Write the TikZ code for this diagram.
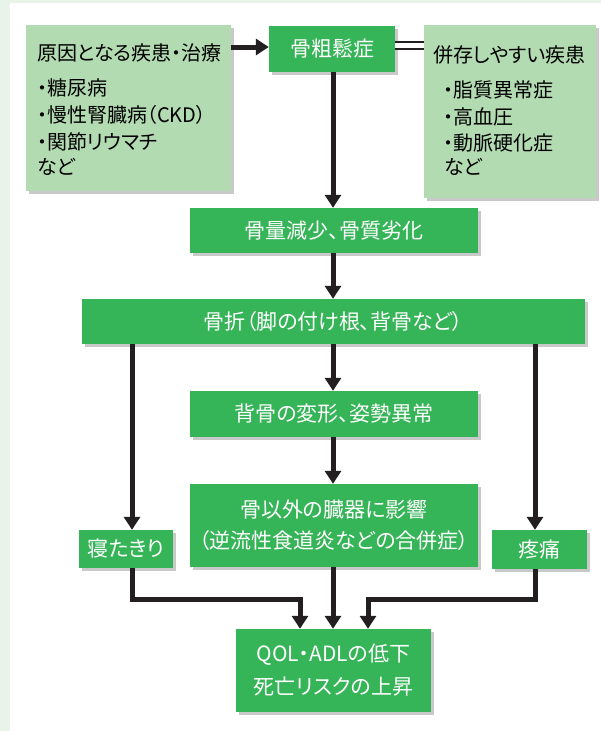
\documentclass[tikz,border=0pt]{standalone}
\usepackage{fontspec}
\setmainfont{Noto Sans CJK JP}[RawFeature={+palt}]
\usetikzlibrary{arrows.meta,shadows}
\definecolor{gfill}{RGB}{54,180,88}
\definecolor{lfill}{RGB}{179,219,178}
\definecolor{pagebg}{RGB}{233,244,233}
\definecolor{ink}{RGB}{35,31,32}
\begin{document}
\begin{tikzpicture}[x=1pt,y=-1pt,
  shad/.style={drop shadow={shadow xshift=2.5pt,shadow yshift=-2.5pt,opacity=0.35,fill=black!60}},
  gbox/.style={shad, fill=gfill, text=white, inner sep=0pt, font=\fontsize{21}{31}\selectfont, align=center},
  lbox/.style={shad, fill=lfill, inner sep=0pt},
  ltext/.style={anchor=base west, inner sep=0pt, font=\fontsize{20}{27}\selectfont, text=black},
  arr/.style={draw=ink, line width=5pt, -{Triangle[width=16pt,length=13pt]}, line join=miter},
  dline/.style={draw=ink, line width=2pt, double=white, double distance=5pt},
]
\useasboundingbox (0,0) rectangle (601,731);
\fill[pagebg] (0,0) rectangle (601,731);
\fill[white] (10,3) rectangle (601,731);

% light boxes
\node[lbox, minimum width=205pt, minimum height=166pt] (cause) at (128.5,108) {};
\node[lbox, minimum width=172pt, minimum height=173pt] (comorb) at (510,111.5) {};

\node[ltext] (c1) at (37,60) {原因となる疾患・治療};
\node[ltext] (c2) at (37,95) {・糖尿病};
\node[ltext] (c3) at (37,122) {・慢性腎臓病（CKD）};
\node[ltext] (c4) at (37,149) {・関節リウマチ};
\node[ltext] (c5) at (37,174) {など};

\node[ltext] (m1) at (433,62) {併存しやすい疾患};
\node[ltext] (m2) at (443,97) {・脂質異常症};
\node[ltext] (m3) at (443,124) {・高血圧};
\node[ltext] (m4) at (443,150) {・動脈硬化症};
\node[ltext] (m5) at (444,174) {など};

% green boxes
\node[gbox, minimum width=126pt, minimum height=46pt] (osteo) at (332,49) {骨粗鬆症};
\node[gbox, minimum width=288pt, minimum height=45pt] (loss) at (334,230.5) {骨量減少、骨質劣化};
\node[gbox, minimum width=503pt, minimum height=45pt] (frac) at (333.5,321.5) {骨折（脚の付け根、背骨など）};
\node[gbox, minimum width=288pt, minimum height=46pt] (deform) at (334,414) {背骨の変形、姿勢異常};
\node[gbox, minimum width=288pt, minimum height=83pt] (organ) at (334,525.5) {骨以外の臓器に影響\\（逆流性食道炎などの合併症）};
\node[gbox, minimum width=94pt, minimum height=38pt] (bed) at (126,549) {寝たきり};
\node[gbox, minimum width=95pt, minimum height=39pt] (pain) at (539.5,549.5) {疼痛};
\node[gbox, minimum width=195pt, minimum height=83pt, font=\fontsize{21}{33}\selectfont] (qol) at (333.5,670.5) {QOL・ADLの低下\\死亡リスクの上昇};

% helper coordinates
\coordinate (ca) at (0,47);
\coordinate (dl) at (0,45.5);
\coordinate (mid) at (333,0);
\coordinate (bx) at (132,0);
\coordinate (px) at (535,0);
\coordinate (hy) at (0,599);
\coordinate (lx) at (300,0);
\coordinate (rx) at (368,0);

% connectors
\draw[arr] (cause.east |- ca) -- (osteo.west |- ca);
\draw[dline] (osteo.east |- dl) -- (comorb.west |- dl);
\draw[arr] (osteo.south -| mid) -- (loss.north -| mid);
\draw[arr] (loss.south -| mid) -- (frac.north -| mid);
\draw[arr] (frac.south -| mid) -- (deform.north -| mid);
\draw[arr] (deform.south -| mid) -- (organ.north -| mid);
\draw[arr] (frac.south -| bx) -- (bed.north -| bx);
\draw[arr] (frac.south -| px) -- (pain.north -| px);
\draw[arr] (bed.south -| bx) -- (bx |- hy) -- (lx |- hy) -- (qol.north -| lx);
\draw[arr] (organ.south -| mid) -- (qol.north -| mid);
\draw[arr] (pain.south -| px) -- (px |- hy) -- (rx |- hy) -- (qol.north -| rx);
\end{tikzpicture}
\end{document}
